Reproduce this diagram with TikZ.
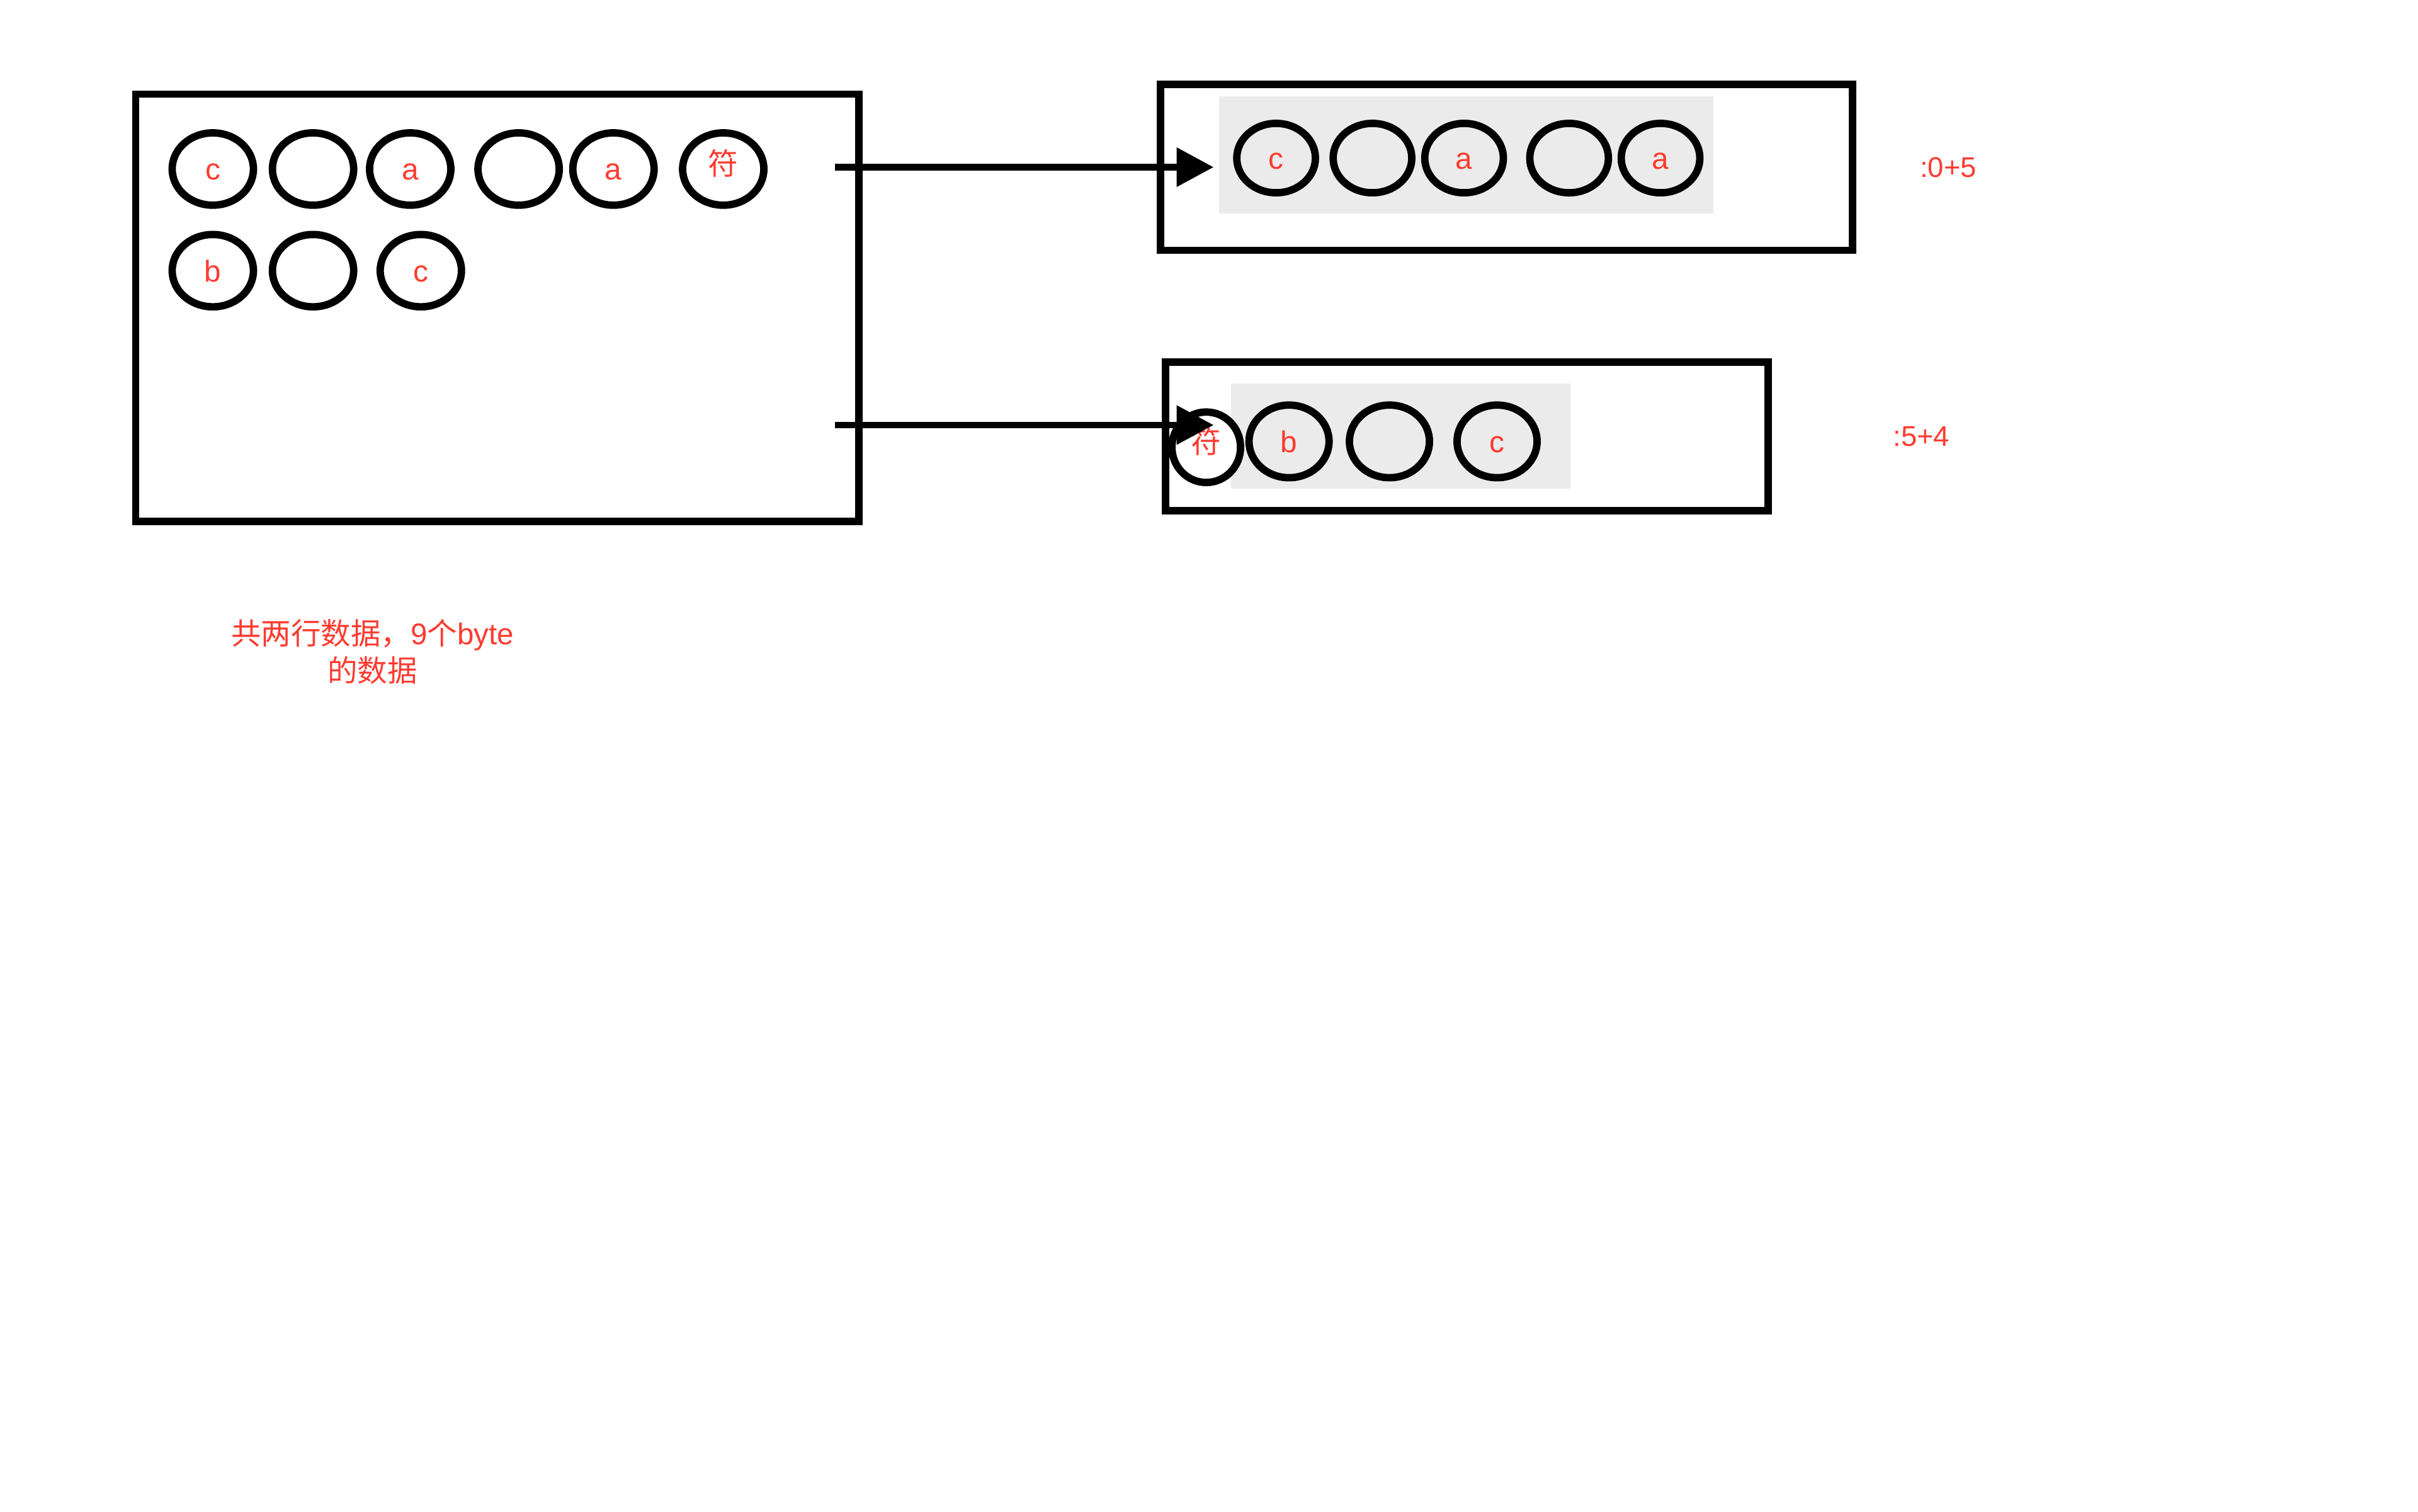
\documentclass[tikz,border=0pt]{standalone}
\usepackage{fontspec}
\setmainfont{Liberation Sans}
\newfontfamily\cjk{Noto Sans CJK SC}
\usepackage{xcolor}
\usepackage{tikz}
\usetikzlibrary{shapes.geometric, arrows.meta}
\definecolor{notered}{HTML}{FF3B30}
\definecolor{rowgray}{HTML}{EBEBEB}

\begin{document}
\begin{tikzpicture}[x=1pt, y=-1pt,
	frame/.style={shape=rectangle, draw, line width=4.8pt, inner sep=0pt},
	rowfill/.style={shape=rectangle, fill=rowgray, inner sep=0pt},
	byte/.style={shape=ellipse, draw, line width=4.8pt, inner sep=0pt, minimum width=52.7pt, minimum height=46.9pt, text=notered, font=\fontsize{19.5}{22}\selectfont, text height=17pt, text depth=2.7pt},
	fubyte/.style={byte, text depth=9.7pt},
	note/.style={text=notered, font=\fontsize{18.5}{24}\selectfont, inner sep=0pt}]
	\useasboundingbox (0, 0) rectangle (1568, 980);
	% Input buffer with both rows:
	\node[frame, minimum width=469pt, minimum height=277pt] (src) at (322.5, 199.5){};
	\node[byte] (s1) at (138, 109.6){c};
	\node[byte] (s2) at (203, 109.6){};
	\node[byte] (s3) at (266, 109.6){a};
	\node[byte] (s4) at (336.3, 109.6){};
	\node[byte] (s5) at (397.8, 109.6){a};
	\node[fubyte] (s6) at (469, 109.6){\cjk 符};
	\node[byte] (s7) at (138, 175.5){b};
	\node[byte] (s8) at (203, 175.5){};
	\node[byte] (s9) at (272.9, 175.5){c};
	% First line, bytes 0+5:
	\node[frame, minimum width=448.7pt, minimum height=107.7pt] (lineA) at (976.9, 108.45){};
	\node[rowfill, minimum width=320.3pt, minimum height=76.1pt] (fillA) at (950.75, 100.35){};
	\node[byte, minimum width=51pt, minimum height=45pt] (a1) at (827.5, 102.5){c};
	\node[byte, minimum width=51pt, minimum height=45pt] (a2) at (890, 102.5){};
	\node[byte, minimum width=51pt, minimum height=45pt] (a3) at (949.4, 102.5){a};
	\node[byte, minimum width=51pt, minimum height=45pt] (a4) at (1017.5, 102.5){};
	\node[byte, minimum width=51pt, minimum height=45pt] (a5) at (1076.8, 102.5){a};
	% Second line, bytes 5+4:
	\node[frame, minimum width=390.7pt, minimum height=96.4pt] (lineB) at (951.25, 283){};
	\node[rowfill, minimum width=220.1pt, minimum height=68.1pt] (fillB) at (908.35, 282.75){};
	\node[fubyte, fill=white, minimum width=44.5pt, minimum height=45.7pt] (b1) at (782.2, 290){\cjk 符};
	\node[byte, minimum width=51.9pt, minimum height=47.1pt] (b2) at (835.9, 286.2){b};
	\node[byte, minimum width=51.9pt, minimum height=47.1pt] (b3) at (901, 286.2){};
	\node[byte, minimum width=51.9pt, minimum height=47.1pt] (b4) at (970.8, 286.2){c};
	% Arrows and labels:
	\coordinate (outA) at (541.4, 108.4);
	\coordinate (inA) at (787, 108.4);
	\coordinate (outB) at (541.4, 275.6);
	\coordinate (inB) at (787, 275.6);
	\draw[line width=4.4pt, -{Triangle[length=24pt, width=24.5pt]}] (outA) -- (inA);
	\draw[line width=4.4pt, -{Triangle[length=24pt, width=24.5pt]}] (outB) -- (inB);
	\node[note] (offA) at (1263.4, 108.7){:0+5};
	\node[note] (offB) at (1246, 283.2){:5+4};
	\node[note, align=center, font=\fontsize{19.4}{24}\selectfont] (total) at (241.5, 422.5){{\cjk 共两行数据，}9{\cjk 个}byte\\{\cjk 的数据}};
\end{tikzpicture}
\end{document}
